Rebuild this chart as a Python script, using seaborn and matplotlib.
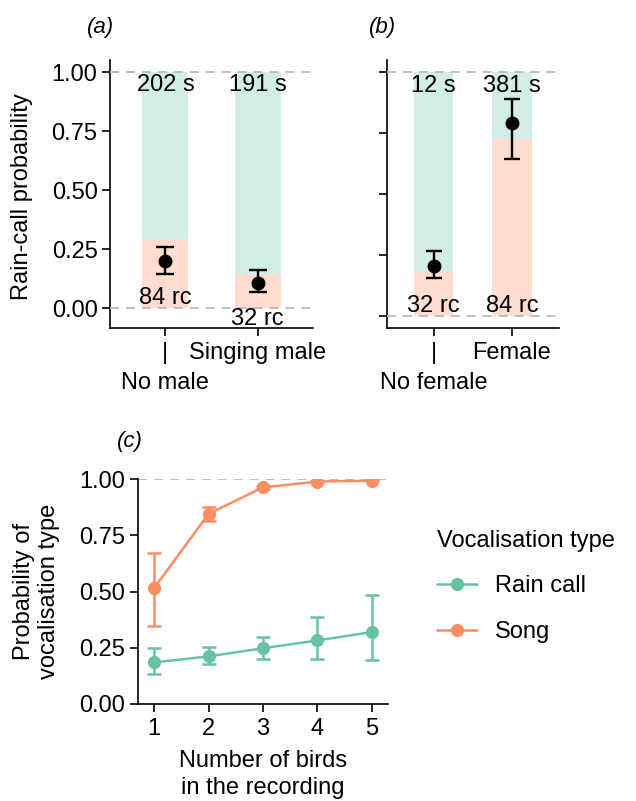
import numpy as np
import pandas as pd
import matplotlib
matplotlib.use("Agg")
import matplotlib.pyplot as plt
import seaborn as sns
from matplotlib.lines import Line2D

# ---------------- data ----------------
# Panel (a): presence of a singing male
male_cats = ["No male", "Singing male"]
male_full = [1.0, 1.0]
male_rc_prop = [0.294, 0.143]
male_est = [0.200, 0.108]
male_lo = [0.146, 0.069]
male_hi = [0.261, 0.163]
male_rc_n = [84, 32]
male_s_n = [202, 191]
male_rc_label_y = [0.041, -0.048]

# Panel (b): presence of a female
fem_cats = ["No female", "Female"]
fem_full = [1.0, 1.0]
fem_rc_prop = [0.179, 0.726]
fem_est = [0.205, 0.791]
fem_lo = [0.153, 0.643]
fem_hi = [0.265, 0.890]
fem_rc_n = [32, 84]
fem_s_n = [12, 381]
fem_rc_label_y = [0.041, 0.041]

# Panel (c): number of birds
n_birds = [1, 2, 3, 4, 5]
rain_est = [0.185, 0.212, 0.248, 0.283, 0.320]
rain_lo = [0.134, 0.178, 0.200, 0.200, 0.197]
rain_hi = [0.248, 0.254, 0.298, 0.386, 0.485]
song_est = [0.515, 0.846, 0.964, 0.990, 0.994]
song_lo = [0.349, 0.816, 0.955, 0.986, 0.991]
song_hi = [0.672, 0.875, 0.972, 0.994, 0.997]
voc_types = ["Rain call", "Song"]

# ---------------- style ----------------
TEAL = "#66C2A5"
ORANGE = "#FC8D62"
TEAL_LIGHT = "#D1EDE4"
PINK_LIGHT = "#FEDDD0"
DASH_COL = "#BEBEBE"
FS = 17
TICK_LEN = 6
XPAD = 4

sns.set_style("ticks")
plt.rcParams["font.family"] = ["Liberation Sans", "DejaVu Sans"]
plt.rcParams["font.size"] = FS
plt.rcParams["axes.linewidth"] = 1.1
plt.rcParams["axes.edgecolor"] = "black"
plt.rcParams["text.color"] = "black"
plt.rcParams["axes.labelcolor"] = "black"
plt.rcParams["xtick.color"] = "black"
plt.rcParams["ytick.color"] = "black"
plt.rcParams["xtick.labelcolor"] = "black"
plt.rcParams["ytick.labelcolor"] = "black"

fig = plt.figure(figsize=(6.36, 8.01), dpi=100)
ax_a = fig.add_axes([0.1730, 0.5909, 0.3191, 0.3342])
ax_b = fig.add_axes([0.6080, 0.5909, 0.2709, 0.3342])
ax_c = fig.add_axes([0.2165, 0.1211, 0.3940, 0.2805])


def style_axis(ax):
    for s in ["top", "right"]:
        ax.spines[s].set_visible(False)
    for s in ["left", "bottom"]:
        ax.spines[s].set_linewidth(1.2)
        ax.spines[s].set_color("black")
    ax.tick_params(axis="both", which="major", length=TICK_LEN, width=1.2,
                   color="black", labelsize=FS, labelcolor="black")
    ax.tick_params(axis="x", which="major", pad=XPAD)
    ax.tick_params(axis="y", which="major", pad=3)


def bar_panel(ax, cats, full, rc_prop, est, lo, hi, rc_n, s_n, rc_y, ylim,
              capsize, show_ylabels):
    df = pd.DataFrame({"cat": cats, "full": full, "rc": rc_prop})
    sns.barplot(data=df, x="cat", y="full", color=TEAL_LIGHT, saturation=1,
                width=0.5, linewidth=0, errorbar=None, ax=ax)
    sns.barplot(data=df, x="cat", y="rc", color=PINK_LIGHT, saturation=1,
                width=0.5, linewidth=0, errorbar=None, ax=ax)
    for yv in (0, 1):
        ax.axhline(yv, color=DASH_COL, lw=1.4, ls=(0, (4.6, 3.6)), zorder=3)
    x = np.arange(len(cats))
    est_a = np.array(est)
    yerr = [est_a - np.array(lo), np.array(hi) - est_a]
    ax.errorbar(x, est_a, yerr=yerr, fmt="o", color="black", ms=9,
                elinewidth=1.7, capsize=capsize, capthick=1.7, zorder=5)
    for xi, n in zip(x, s_n):
        ax.text(xi, 0.945, f"{n} s", ha="center", va="center", fontsize=FS, zorder=4)
    for xi, n, yy in zip(x, rc_n, rc_y):
        ax.text(xi, yy, f"{n} rc", ha="center", va="center", fontsize=FS, zorder=4)
    ax.set_xlim(-0.6, len(cats) - 0.4)
    ax.set_ylim(*ylim)
    ax.set_yticks([0, 0.25, 0.5, 0.75, 1.0])
    if show_ylabels:
        ax.set_yticklabels(["0.00", "0.25", "0.50", "0.75", "1.00"])
    else:
        ax.set_yticklabels([])
    # first category: "|" on the first line, its name on the line below
    ax.set_xticks(x)
    ax.set_xticklabels(["|"] + list(cats[1:]))
    ax.xaxis.remove_overlapping_locs = False
    ax.set_xticks([x[0]], minor=True)
    ax.set_xticklabels([cats[0]], minor=True)
    ax.set_xlabel("")
    ax.set_ylabel("")
    style_axis(ax)
    ax.tick_params(axis="x", which="minor", length=0, labelsize=FS,
                   labelcolor="black", pad=TICK_LEN + XPAD + 1.2 * FS + 1.5)
    ax.tick_params(axis="y", which="minor", length=0)


bar_panel(ax_a, male_cats, male_full, male_rc_prop, male_est, male_lo, male_hi,
          male_rc_n, male_s_n, male_rc_label_y, (-0.083, 1.052), 6.8, True)
ax_a.set_ylabel("Rain-call probability", fontsize=FS)
ax_a.yaxis.set_label_coords(-0.379, 0.49)

bar_panel(ax_b, fem_cats, fem_full, fem_rc_prop, fem_est, fem_lo, fem_hi,
          fem_rc_n, fem_s_n, fem_rc_label_y, (-0.05, 1.05), 6.0, False)

# Panel (c)
df_c = pd.DataFrame({
    "n": n_birds + n_birds,
    "prob": rain_est + song_est,
    "type": [voc_types[0]] * len(n_birds) + [voc_types[1]] * len(n_birds),
})
pal = {voc_types[0]: TEAL, voc_types[1]: ORANGE}
ax_c.axhline(1, color=DASH_COL, lw=1.4, ls=(0, (4.6, 3.6)), zorder=1)
sns.lineplot(data=df_c, x="n", y="prob", hue="type", palette=pal, marker="o",
             markersize=9.5, markeredgewidth=0, linewidth=1.8, ax=ax_c, zorder=3,
             legend=False)
for name, est, lo, hi in [(voc_types[0], rain_est, rain_lo, rain_hi),
                          (voc_types[1], song_est, song_lo, song_hi)]:
    e = np.array(est)
    ax_c.errorbar(n_birds, e, yerr=[e - np.array(lo), np.array(hi) - e],
                  fmt="none", ecolor=pal[name], elinewidth=1.8, capsize=4.8,
                  capthick=1.8, zorder=2)
ax_c.set_xlim(0.7, 5.3)
ax_c.set_ylim(0, 1)
ax_c.set_xticks(n_birds)
ax_c.set_yticks([0, 0.25, 0.5, 0.75, 1.0])
ax_c.set_yticklabels(["0.00", "0.25", "0.50", "0.75", "1.00"])
style_axis(ax_c)
ax_c.set_xlabel("Number of birds\nin the recording", fontsize=FS, labelpad=7,
                linespacing=1.3)
ax_c.set_ylabel("Probability of\nvocalisation type", fontsize=FS)
ax_c.yaxis.set_label_coords(-0.31, 0.5)

handles = [Line2D([], [], color=pal[t], marker="o", ms=9.5, mew=0, lw=1.8)
           for t in voc_types]
ax_c.legend(handles, voc_types, title="Vocalisation type", loc="center left",
            bbox_to_anchor=(0.687, 0.268), bbox_transform=fig.transFigure,
            frameon=False, fontsize=FS, title_fontsize=FS, handlelength=1.7,
            handletextpad=0.75, labelspacing=1.0, borderpad=0, borderaxespad=0,
            alignment="left")

# Panel tags
fig.text(87 / 636, 1 - 27 / 801, "(a)", style="italic", ha="left", va="center", fontsize=16)
fig.text(369 / 636, 1 - 27 / 801, "(b)", style="italic", ha="left", va="center", fontsize=16)
fig.text(117 / 636, 1 - 441 / 801, "(c)", style="italic", ha="left", va="center", fontsize=16)

fig.savefig("out.png", dpi=100)
